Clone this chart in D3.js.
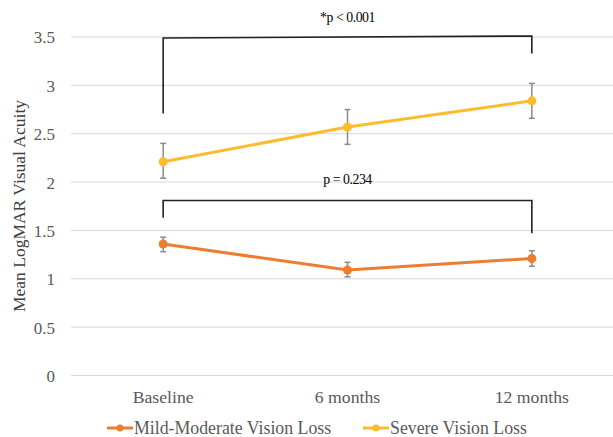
<!DOCTYPE html>
<html><head><meta charset="utf-8">
<script src="https://cdn.jsdelivr.net/npm/d3@7"></script>
<style>
html,body{margin:0;padding:0;background:#fff;}
svg{display:block;font-family:"Liberation Serif","Times New Roman",serif;}
</style></head>
<body><svg id="c" width="613" height="437"></svg>
<script>
const categories = ["Baseline", "6 months", "12 months"];
const seriesNames = ["Mild-Moderate Vision Loss", "Severe Vision Loss"];
const mildValues = [1.36, 1.09, 1.21];
const mildLow = [1.28, 1.02, 1.13];
const mildHigh = [1.43, 1.17, 1.29];
const severeValues = [2.21, 2.57, 2.84];
const severeLow = [2.04, 2.39, 2.66];
const severeHigh = [2.40, 2.75, 3.02];
const yTicks = [0, 0.5, 1, 1.5, 2, 2.5, 3, 3.5];
const bracketLabels = ["*p < 0.001", "p = 0.234"];
// bracket: [left leg bottom, left top, right top, right leg bottom]
const severeBracket = [2.71, 3.49, 3.51, 3.33];
const mildBracket = [1.63, 1.81, 1.81, 1.47];
const bracketTextValue = [3.65, 1.98];

const colors = ["#ED7D31", "#FBBD2E"];
const svg = d3.select("#c");
const plotLeft = 71, plotRight = 624;
const x = d3.scaleBand().domain(categories).range([plotLeft, plotRight]);
const cx = c => x(c) + x.bandwidth() / 2;
const y = d3.scaleLinear().domain([0, 3.5]).range([375.5, 37]);

// grid
svg.append("g").selectAll("line").data(yTicks).join("line")
  .attr("x1", plotLeft).attr("x2", 613)
  .attr("y1", d => y(d)).attr("y2", d => y(d))
  .attr("stroke", "#d9d9d9").attr("stroke-width", 1);

// y axis labels
const yAxis = d3.axisLeft(y).tickValues(yTicks).tickSize(0).tickPadding(0).tickFormat(d => String(d));
const ga = svg.append("g").attr("transform", "translate(55,0)").call(yAxis);
ga.select(".domain").remove();
ga.selectAll("text").attr("font-size", 17).attr("fill", "#595959")
  .attr("font-family", "Liberation Serif").attr("dy", "0.35em");

// x axis labels
const xAxis = d3.axisBottom(x).tickSize(0).tickPadding(0);
const gx = svg.append("g").attr("transform", "translate(0,397)").call(xAxis);
gx.select(".domain").remove();
gx.selectAll("text").attr("font-size", 17.7).attr("fill", "#595959")
  .attr("font-family", "Liberation Serif").attr("dy", "0.32em");

// y title
svg.append("text").attr("transform", "translate(25,206) rotate(-90)")
  .attr("text-anchor", "middle").attr("font-size", 17.5).attr("fill", "#404040")
  .text("Mean LogMAR Visual Acuity");

// brackets
function bracket(b) {
  const pts = [[cx(categories[0]), y(b[0])], [cx(categories[0]), y(b[1])],
               [cx(categories[2]), y(b[2])], [cx(categories[2]), y(b[3])]];
  svg.append("path").attr("d", d3.line()(pts)).attr("fill", "none")
    .attr("stroke", "#222").attr("stroke-width", 1.6);
}
bracket(severeBracket);
bracket(mildBracket);
bracketLabels.forEach((t, i) => {
  svg.append("text").attr("x", cx(categories[1])).attr("y", y(bracketTextValue[i]))
    .attr("text-anchor", "middle").attr("font-size", 13.8).attr("letter-spacing", -0.45)
    .attr("fill", "#000").text(t);
});

// series
const series = [
  {vals: mildValues, lo: mildLow, hi: mildHigh, color: colors[0]},
  {vals: severeValues, lo: severeLow, hi: severeHigh, color: colors[1]}
];
series.forEach(s => {
  const g = svg.append("g");
  const data = categories.map((c, i) => ({c, v: s.vals[i], lo: s.lo[i], hi: s.hi[i]}));
  g.append("path").datum(data)
    .attr("d", d3.line().x(d => cx(d.c)).y(d => y(d.v)))
    .attr("fill", "none").attr("stroke", s.color).attr("stroke-width", 3);
  data.forEach(d => {
    const xx = cx(d.c);
    g.append("line").attr("x1", xx).attr("x2", xx).attr("y1", y(d.lo)).attr("y2", y(d.hi))
      .attr("stroke", "#8c8c8c").attr("stroke-width", 1.5);
    [d.lo, d.hi].forEach(v => g.append("line").attr("x1", xx - 3).attr("x2", xx + 3)
      .attr("y1", y(v)).attr("y2", y(v)).attr("stroke", "#8c8c8c").attr("stroke-width", 1.5));
  });
  g.selectAll("circle").data(data).join("circle")
    .attr("cx", d => cx(d.c)).attr("cy", d => y(d.v)).attr("r", 4.5).attr("fill", s.color);
});

// legend
const legX = [107, 363];
seriesNames.forEach((n, i) => {
  const g = svg.append("g").attr("transform", `translate(${legX[i]},428)`);
  g.append("line").attr("x1", 0).attr("x2", 26).attr("y1", 0).attr("y2", 0)
    .attr("stroke", colors[i]).attr("stroke-width", 3);
  g.append("circle").attr("cx", 13).attr("cy", 0).attr("r", 3.5).attr("fill", colors[i]);
  g.append("text").attr("x", 27).attr("y", 0).attr("dy", "0.33em")
    .attr("font-size", 17.8).attr("fill", "#595959").text(n);
});
</script></body></html>
